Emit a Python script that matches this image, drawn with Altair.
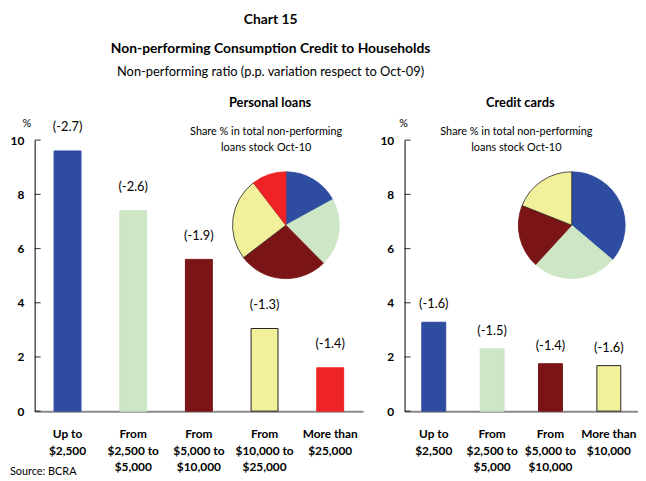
import altair as alt
import pandas as pd

FONT = "Lato"

pl_categories = ["Up to\n$2,500", "From\n$2,500 to\n$5,000", "From\n$5,000 to\n$10,000",
                 "From\n$10,000 to\n$25,000", "More than\n$25,000"]
pl_ratio = [9.6, 7.4, 5.6, 3.05, 1.6]
pl_change = ["(-2.7)", "(-2.6)", "(-1.9)", "(-1.3)", "(-1.4)"]
pl_share = [17.0, 20.6, 27.0, 25.0, 10.4]

cc_categories = ["Up to\n$2,500", "From\n$2,500 to\n$5,000", "From\n$5,000 to\n$10,000",
                 "More than\n$10,000"]
cc_ratio = [3.28, 2.3, 1.75, 1.68]
cc_change = ["(-1.6)", "(-1.5)", "(-1.4)", "(-1.6)"]
cc_share = [36.2, 25.6, 19.2, 19.0]

palette = ["#2E4CA0", "#CDE6C5", "#7A1416", "#F3F09B", "#EE2325"]
outline = ["#2E4CA0", "#CDE6C5", "#7A1416", "#222222", "#EE2325"]
y_ticks = [0, 2, 4, 6, 8, 10]

H = 274


def note(text, x, y, size, weight="normal", align="center"):
    return alt.Chart(pd.DataFrame({"t": [text]})).mark_text(
        font=FONT, fontSize=size, fontWeight=weight, align=align,
        baseline="middle", color="black"
    ).encode(text="t:N", x=alt.value(x), y=alt.value(y))


def panel(cats, ratio, change, share, width, title, title_x, pie_x, pct_x, label_dy, source=False):
    n = len(cats)
    df = pd.DataFrame({"cat": cats, "ratio": ratio, "change": change, "share": share,
                       "fill": palette[:n], "line": outline[:n], "order": list(range(n))})
    x = alt.X("cat:N", sort=cats, title=None,
              scale=alt.Scale(paddingInner=0.59, paddingOuter=0.295),
              axis=alt.Axis(labelAngle=0, labelExpr="split(datum.label, '\\n')", ticks=False,
                            labelPadding=18, labelLineHeight=16.5, labelFontWeight="bold",
                            labelFontSize=12, labelFont=FONT, labelColor="black",
                            domainColor="#8a8a8a", domainWidth=2))
    y = alt.Y("ratio:Q", title=None, scale=alt.Scale(domain=[0, 10], nice=False),
              axis=alt.Axis(values=y_ticks, grid=False, ticks=False, labelPadding=11,
                            labelFontWeight="bold", labelFontSize=12, labelFont=FONT,
                            labelColor="black", domainColor="#555555", domainWidth=1.5,
                            minExtent=27, maxExtent=27))
    base = alt.Chart(df)
    bars = base.mark_bar(strokeWidth=1).encode(
        x=x, y=y,
        fill=alt.Fill("fill:N", scale=None),
        stroke=alt.Stroke("line:N", scale=None))
    labels = base.mark_text(dy=label_dy, font=FONT, fontSize=13, baseline="middle",
                            color="black").encode(x=x, y=y, text="change:N")
    tick_df = pd.DataFrame({"v": y_ticks})
    ticks = alt.Chart(tick_df).mark_tick(orient="horizontal", size=6, thickness=1.2,
                                         color="black").encode(
        y=alt.Y("v:Q"), x=alt.value(3))
    pie = base.mark_arc(radius=54, strokeWidth=0.8).encode(
        theta=alt.Theta("share:Q", stack=True),
        order=alt.Order("order:Q"),
        fill=alt.Fill("fill:N", scale=None),
        stroke=alt.Stroke("line:N", scale=None),
        x=alt.value(pie_x), y=alt.value(86))
    layers = [bars, labels, ticks, pie,
              note(title, title_x, -38, 13, "bold"),
              note("Share % in total non-performing", title_x - 4, -8, 11),
              note("loans stock Oct-10", title_x - 4, 8, 11),
              note("%", pct_x, -16, 11)]
    if source:
        layers.append(note("Source: BCRA", -25, 336, 11, align="left"))
    return alt.layer(*layers).properties(width=width, height=H)


left = panel(pl_categories, pl_ratio, pl_change, pl_share, 332, "Personal loans",
             238, 254, -8, -24, source=True)
right = panel(cc_categories, cc_ratio, cc_change, cc_share, 236, "Credit cards",
              117, 169, -1, -18)

chart = alt.hconcat(left, right, spacing=15).properties(
    padding={"left": 0, "top": 3, "right": 0, "bottom": 0},
    title=alt.TitleParams(
        text=["Chart 15", "Non-performing Consumption Credit to Households"],
        subtitle="Non-performing ratio (p.p. variation respect to Oct-09)",
        font=FONT, fontSize=14, fontWeight="bold", color="black", lineHeight=29,
        subtitleFont=FONT, subtitleFontSize=13, subtitleColor="black",
        subtitlePadding=10, anchor="middle", dx=-53, offset=18)
).configure_view(stroke=None).resolve_scale(y="independent")

chart.save("out.html", embed_options={"renderer": "svg", "actions": False})
